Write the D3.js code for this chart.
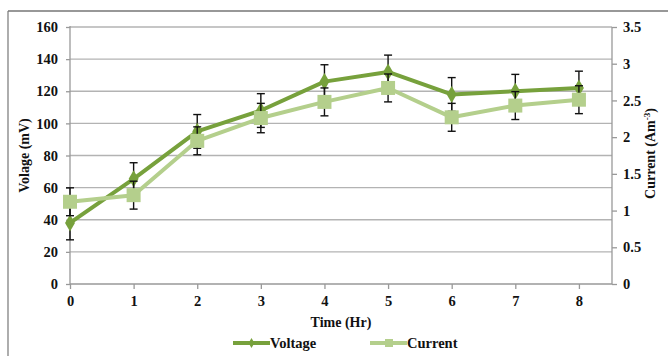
<!DOCTYPE html>
<html>
<head>
<meta charset="utf-8">
<script src="https://cdn.jsdelivr.net/npm/d3@7/dist/d3.min.js"></script>
<style>
  body { margin: 0; background: #fff; }
  svg { display: block; font-family: "Liberation Serif", "Times New Roman", serif; font-weight: bold; }
</style>
</head>
<body>
<svg id="chart" width="668" height="356"></svg>
<script>
var hours = [0, 1, 2, 3, 4, 5, 6, 7, 8];
var voltage = [38, 65.5, 95, 108, 126, 132, 118, 120, 122];
var voltageErr = [10.5, 10, 10.5, 10.5, 10.5, 10.5, 10.5, 10.5, 10.5];
var current = [1.12, 1.21, 1.95, 2.26, 2.48, 2.67, 2.27, 2.43, 2.51];
var currentErr = [0.19, 0.19, 0.19, 0.2, 0.19, 0.19, 0.19, 0.19, 0.19];
var leftTicks = [0, 20, 40, 60, 80, 100, 120, 140, 160];
var rightTicks = [0, 0.5, 1, 1.5, 2, 2.5, 3, 3.5];

var voltColor = "#77a13c", currColor = "#b4cf8c";

var svg = d3.select("#chart");
var plotLeft = 70, plotRight = 612, plotTop = 27, plotBottom = 284;

var x = d3.scaleLinear().domain([0, 8.52]).range([plotLeft, plotRight]);
var yL = d3.scaleLinear().domain([0, 160]).range([plotBottom, plotTop]);
var yR = d3.scaleLinear().domain([0, 3.5]).range([plotBottom, plotTop]);

// outer frame
svg.append("line").attr("x1", 8).attr("x2", 668).attr("y1", 11).attr("y2", 11)
  .attr("stroke", "#333").attr("stroke-width", 1.2);
svg.append("line").attr("x1", 8).attr("x2", 8).attr("y1", 11).attr("y2", 356)
  .attr("stroke", "#777").attr("stroke-width", 1.2);

// gridlines
svg.append("g").selectAll("line").data(leftTicks.slice(1)).join("line")
  .attr("x1", plotLeft).attr("x2", plotRight)
  .attr("y1", function(d) { return yL(d); }).attr("y2", function(d) { return yL(d); })
  .attr("stroke", "#b3b3b3").attr("stroke-width", 1.3);

// left axis
var gL = svg.append("g").attr("transform", "translate(" + plotLeft + ",0)")
  .call(d3.axisLeft(yL).tickValues(leftTicks).tickSize(4).tickPadding(8));
// right axis
var gR = svg.append("g").attr("transform", "translate(" + plotRight + ",0)")
  .call(d3.axisRight(yR).tickValues(rightTicks).tickSize(5).tickPadding(6)
    .tickFormat(function(d) { return d; }));
// bottom axis
var gB = svg.append("g").attr("transform", "translate(0," + plotBottom + ")")
  .call(d3.axisBottom(x).tickValues(hours).tickSize(5).tickPadding(7));

[gL, gR, gB].forEach(function(g) {
  g.select(".domain").attr("stroke", "#999").attr("stroke-width", 1.3);
  g.selectAll(".tick line").attr("stroke", "#999").attr("stroke-width", 1.3);
  g.selectAll("text").attr("fill", "#111").style("font-size", "14.5px")
    .style("font-family", "Liberation Serif").style("font-weight", "bold");
});
gL.select(".domain").attr("d", "M0," + (plotTop - 1) + "V" + plotBottom);
gR.select(".domain").attr("d", "M0," + plotTop + "V" + plotBottom);
gB.select(".domain").attr("d", "M" + plotLeft + ",0H" + plotRight);

// axis titles
svg.append("text").attr("transform", "translate(29," + ((plotTop + plotBottom) / 2) + ") rotate(-90)")
  .attr("text-anchor", "middle").style("font-size", "14px").attr("fill", "#111").text("Volage (mV)");
var rt = svg.append("text").attr("transform", "translate(655," + ((plotTop + plotBottom) / 2 - 2) + ") rotate(-90)")
  .attr("text-anchor", "middle").style("font-size", "14px").attr("fill", "#111");
rt.append("tspan").text("Current (Am");
rt.append("tspan").attr("dy", -5).style("font-size", "9px").text("-3");
rt.append("tspan").attr("dy", 5).text(")");
svg.append("text").attr("x", (plotLeft + plotRight) / 2).attr("y", 327)
  .attr("text-anchor", "middle").style("font-size", "14px").attr("fill", "#111").text("Time (Hr)");

function errorBars(vals, errs, y) {
  var g = svg.append("g").attr("stroke", "#111").attr("stroke-width", 1.4);
  hours.forEach(function(h, i) {
    var cx = x(h), y1 = y(vals[i] + errs[i]), y2 = y(vals[i] - errs[i]);
    g.append("line").attr("x1", cx).attr("x2", cx).attr("y1", y1).attr("y2", y2);
    g.append("line").attr("x1", cx - 4).attr("x2", cx + 4).attr("y1", y1).attr("y2", y1);
    g.append("line").attr("x1", cx - 4).attr("x2", cx + 4).attr("y1", y2).attr("y2", y2);
  });
}

// voltage series
svg.append("path").datum(voltage)
  .attr("fill", "none").attr("stroke", voltColor).attr("stroke-width", 4)
  .attr("stroke-linejoin", "round")
  .attr("d", d3.line().x(function(d, i) { return x(hours[i]); }).y(function(d) { return yL(d); }));
errorBars(voltage, voltageErr, yL);
svg.append("g").selectAll("path").data(voltage).join("path")
  .attr("transform", function(d, i) { return "translate(" + x(hours[i]) + "," + yL(d) + ")"; })
  .attr("d", d3.symbol(d3.symbolDiamond, 85))
  .attr("fill", voltColor);

// current series
svg.append("path").datum(current)
  .attr("fill", "none").attr("stroke", currColor).attr("stroke-width", 4)
  .attr("stroke-linejoin", "round")
  .attr("d", d3.line().x(function(d, i) { return x(hours[i]); }).y(function(d) { return yR(d); }));
errorBars(current, currentErr, yR);
svg.append("g").selectAll("rect").data(current).join("rect")
  .attr("x", function(d, i) { return x(hours[i]) - 7; })
  .attr("y", function(d) { return yR(d) - 7; })
  .attr("width", 14).attr("height", 14)
  .attr("fill", currColor);

// legend
var legend = [
  { name: "Voltage", color: voltColor, x0: 233, diamond: true },
  { name: "Current", color: currColor, x0: 370, diamond: false }
];
legend.forEach(function(l) {
  var ly = 343;
  svg.append("line").attr("x1", l.x0).attr("x2", l.x0 + 37).attr("y1", ly).attr("y2", ly)
    .attr("stroke", l.color).attr("stroke-width", 4);
  if (l.diamond) {
    svg.append("path").attr("transform", "translate(" + (l.x0 + 18.5) + "," + ly + ")")
      .attr("d", d3.symbol(d3.symbolDiamond, 30)).attr("fill", l.color);
  } else {
    svg.append("rect").attr("x", l.x0 + 15).attr("y", ly - 4).attr("width", 8).attr("height", 8)
      .attr("fill", l.color);
  }
  svg.append("text").attr("x", l.x0 + 37).attr("y", ly + 5).style("font-size", "14.5px")
    .attr("fill", "#111").text(l.name);
});
</script>
</body>
</html>
